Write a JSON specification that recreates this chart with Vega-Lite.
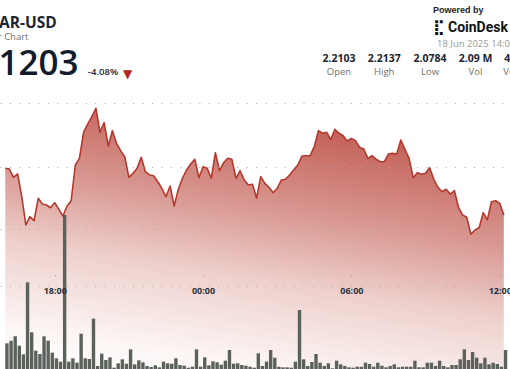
{
  "$schema": "https://vega.github.io/schema/vega-lite/v6.json",
  "width": 510,
  "height": 369,
  "padding": 0,
  "autosize": {"type": "none"},
  "background": "white",
  "view": {"stroke": null},
  "datasets": {
    "bars": [
      {"t": "2025-06-17T16:00:00Z", "p": 2.1480, "v": 41.1},
      {"t": "2025-06-17T16:10:00Z", "p": 2.1472, "v": 45.3},
      {"t": "2025-06-17T16:20:00Z", "p": 2.1380, "v": 52.3},
      {"t": "2025-06-17T16:30:00Z", "p": 2.1417, "v": 37.3},
      {"t": "2025-06-17T16:40:00Z", "p": 2.1164, "v": 23.5},
      {"t": "2025-06-17T16:50:00Z", "p": 2.0850, "v": 138.7},
      {"t": "2025-06-17T17:00:00Z", "p": 2.0942, "v": 58.7},
      {"t": "2025-06-17T17:10:00Z", "p": 2.0898, "v": 29.3},
      {"t": "2025-06-17T17:20:00Z", "p": 2.1147, "v": 24.0},
      {"t": "2025-06-17T17:30:00Z", "p": 2.1083, "v": 52.3},
      {"t": "2025-06-17T17:40:00Z", "p": 2.1072, "v": 45.3},
      {"t": "2025-06-17T17:50:00Z", "p": 2.1042, "v": 26.1},
      {"t": "2025-06-17T18:00:00Z", "p": 2.1098, "v": 17.1},
      {"t": "2025-06-17T18:10:00Z", "p": 2.1024, "v": 11.7},
      {"t": "2025-06-17T18:20:00Z", "p": 2.0950, "v": 246.4},
      {"t": "2025-06-17T18:30:00Z", "p": 2.1061, "v": 11.7},
      {"t": "2025-06-17T18:40:00Z", "p": 2.1120, "v": 17.1},
      {"t": "2025-06-17T18:50:00Z", "p": 2.1517, "v": 10.1},
      {"t": "2025-06-17T19:00:00Z", "p": 2.1591, "v": 56.5},
      {"t": "2025-06-17T19:10:00Z", "p": 2.1880, "v": 17.1},
      {"t": "2025-06-17T19:20:00Z", "p": 2.1972, "v": 16.0},
      {"t": "2025-06-17T19:30:00Z", "p": 2.2053, "v": 80.5},
      {"t": "2025-06-17T19:40:00Z", "p": 2.2147, "v": 4.8},
      {"t": "2025-06-17T19:50:00Z", "p": 2.1880, "v": 24.5},
      {"t": "2025-06-17T20:00:00Z", "p": 2.1987, "v": 14.4},
      {"t": "2025-06-17T20:10:00Z", "p": 2.1728, "v": 18.7},
      {"t": "2025-06-17T20:20:00Z", "p": 2.1898, "v": 2.1},
      {"t": "2025-06-17T20:30:00Z", "p": 2.1758, "v": 9.1},
      {"t": "2025-06-17T20:40:00Z", "p": 2.1676, "v": 15.5},
      {"t": "2025-06-17T20:50:00Z", "p": 2.1609, "v": 8.5},
      {"t": "2025-06-17T21:00:00Z", "p": 2.1380, "v": 31.5},
      {"t": "2025-06-17T21:10:00Z", "p": 2.1424, "v": 7.5},
      {"t": "2025-06-17T21:20:00Z", "p": 2.1480, "v": 13.9},
      {"t": "2025-06-17T21:30:00Z", "p": 2.1602, "v": 10.7},
      {"t": "2025-06-17T21:40:00Z", "p": 2.1442, "v": 4.8},
      {"t": "2025-06-17T21:50:00Z", "p": 2.1406, "v": 3.2},
      {"t": "2025-06-17T22:00:00Z", "p": 2.1398, "v": 5.9},
      {"t": "2025-06-17T22:10:00Z", "p": 2.1331, "v": 2.7},
      {"t": "2025-06-17T22:20:00Z", "p": 2.1258, "v": 11.7},
      {"t": "2025-06-17T22:30:00Z", "p": 2.1164, "v": 9.1},
      {"t": "2025-06-17T22:40:00Z", "p": 2.1283, "v": 8.5},
      {"t": "2025-06-17T22:50:00Z", "p": 2.1061, "v": 17.1},
      {"t": "2025-06-17T23:00:00Z", "p": 2.1247, "v": 6.4},
      {"t": "2025-06-17T23:10:00Z", "p": 2.1369, "v": 5.3},
      {"t": "2025-06-17T23:20:00Z", "p": 2.1461, "v": 2.1},
      {"t": "2025-06-17T23:30:00Z", "p": 2.1528, "v": 3.7},
      {"t": "2025-06-17T23:40:00Z", "p": 2.1580, "v": 31.5},
      {"t": "2025-06-17T23:50:00Z", "p": 2.1376, "v": 3.7},
      {"t": "2025-06-18T00:00:00Z", "p": 2.1498, "v": 18.7},
      {"t": "2025-06-18T00:10:00Z", "p": 2.1480, "v": 5.9},
      {"t": "2025-06-18T00:20:00Z", "p": 2.1369, "v": 12.3},
      {"t": "2025-06-18T00:30:00Z", "p": 2.1653, "v": 10.7},
      {"t": "2025-06-18T00:40:00Z", "p": 2.1453, "v": 6.9},
      {"t": "2025-06-18T00:50:00Z", "p": 2.1542, "v": 13.3},
      {"t": "2025-06-18T01:00:00Z", "p": 2.1591, "v": 30.4},
      {"t": "2025-06-18T01:10:00Z", "p": 2.1580, "v": 8.5},
      {"t": "2025-06-18T01:20:00Z", "p": 2.1369, "v": 9.1},
      {"t": "2025-06-18T01:30:00Z", "p": 2.1453, "v": 6.4},
      {"t": "2025-06-18T01:40:00Z", "p": 2.1350, "v": 5.3},
      {"t": "2025-06-18T01:50:00Z", "p": 2.1294, "v": 3.7},
      {"t": "2025-06-18T02:00:00Z", "p": 2.1302, "v": 2.1},
      {"t": "2025-06-18T02:10:00Z", "p": 2.1150, "v": 25.1},
      {"t": "2025-06-18T02:20:00Z", "p": 2.1387, "v": 4.8},
      {"t": "2025-06-18T02:30:00Z", "p": 2.1313, "v": 11.7},
      {"t": "2025-06-18T02:40:00Z", "p": 2.1269, "v": 30.4},
      {"t": "2025-06-18T02:50:00Z", "p": 2.1209, "v": 18.1},
      {"t": "2025-06-18T03:00:00Z", "p": 2.1258, "v": 3.7},
      {"t": "2025-06-18T03:10:00Z", "p": 2.1350, "v": 2.7},
      {"t": "2025-06-18T03:20:00Z", "p": 2.1358, "v": 2.7},
      {"t": "2025-06-18T03:30:00Z", "p": 2.1406, "v": 2.1},
      {"t": "2025-06-18T03:40:00Z", "p": 2.1461, "v": 11.7},
      {"t": "2025-06-18T03:50:00Z", "p": 2.1517, "v": 94.4},
      {"t": "2025-06-18T04:00:00Z", "p": 2.1617, "v": 15.5},
      {"t": "2025-06-18T04:10:00Z", "p": 2.1620, "v": 4.8},
      {"t": "2025-06-18T04:20:00Z", "p": 2.1620, "v": 11.2},
      {"t": "2025-06-18T04:30:00Z", "p": 2.1720, "v": 24.0},
      {"t": "2025-06-18T04:40:00Z", "p": 2.1898, "v": 10.1},
      {"t": "2025-06-18T04:50:00Z", "p": 2.1869, "v": 4.8},
      {"t": "2025-06-18T05:00:00Z", "p": 2.1880, "v": 9.1},
      {"t": "2025-06-18T05:10:00Z", "p": 2.1802, "v": 1.1},
      {"t": "2025-06-18T05:20:00Z", "p": 2.1913, "v": 13.3},
      {"t": "2025-06-18T05:30:00Z", "p": 2.1869, "v": 7.5},
      {"t": "2025-06-18T05:40:00Z", "p": 2.1842, "v": 4.8},
      {"t": "2025-06-18T05:50:00Z", "p": 2.1783, "v": 2.7},
      {"t": "2025-06-18T06:00:00Z", "p": 2.1813, "v": 2.1},
      {"t": "2025-06-18T06:10:00Z", "p": 2.1787, "v": 3.7},
      {"t": "2025-06-18T06:20:00Z", "p": 2.1713, "v": 3.7},
      {"t": "2025-06-18T06:30:00Z", "p": 2.1694, "v": 10.1},
      {"t": "2025-06-18T06:40:00Z", "p": 2.1591, "v": 8.0},
      {"t": "2025-06-18T06:50:00Z", "p": 2.1620, "v": 3.7},
      {"t": "2025-06-18T07:00:00Z", "p": 2.1580, "v": 10.1},
      {"t": "2025-06-18T07:10:00Z", "p": 2.1553, "v": 5.3},
      {"t": "2025-06-18T07:20:00Z", "p": 2.1553, "v": 2.7},
      {"t": "2025-06-18T07:30:00Z", "p": 2.1639, "v": 4.8},
      {"t": "2025-06-18T07:40:00Z", "p": 2.1647, "v": 7.5},
      {"t": "2025-06-18T07:50:00Z", "p": 2.1639, "v": 2.7},
      {"t": "2025-06-18T08:00:00Z", "p": 2.1794, "v": 3.7},
      {"t": "2025-06-18T08:10:00Z", "p": 2.1691, "v": 3.7},
      {"t": "2025-06-18T08:20:00Z", "p": 2.1591, "v": 3.7},
      {"t": "2025-06-18T08:30:00Z", "p": 2.1376, "v": 13.3},
      {"t": "2025-06-18T08:40:00Z", "p": 2.1431, "v": 2.7},
      {"t": "2025-06-18T08:50:00Z", "p": 2.1413, "v": 2.7},
      {"t": "2025-06-18T09:00:00Z", "p": 2.1424, "v": 10.1},
      {"t": "2025-06-18T09:10:00Z", "p": 2.1487, "v": 10.1},
      {"t": "2025-06-18T09:20:00Z", "p": 2.1358, "v": 4.8},
      {"t": "2025-06-18T09:30:00Z", "p": 2.1269, "v": 13.3},
      {"t": "2025-06-18T09:40:00Z", "p": 2.1220, "v": 4.8},
      {"t": "2025-06-18T09:50:00Z", "p": 2.1247, "v": 2.7},
      {"t": "2025-06-18T10:00:00Z", "p": 2.1194, "v": 6.4},
      {"t": "2025-06-18T10:10:00Z", "p": 2.1231, "v": 6.4},
      {"t": "2025-06-18T10:20:00Z", "p": 2.1047, "v": 15.5},
      {"t": "2025-06-18T10:30:00Z", "p": 2.0961, "v": 31.5},
      {"t": "2025-06-18T10:40:00Z", "p": 2.0936, "v": 14.4},
      {"t": "2025-06-18T10:50:00Z", "p": 2.0747, "v": 27.2},
      {"t": "2025-06-18T11:00:00Z", "p": 2.0794, "v": 18.1},
      {"t": "2025-06-18T11:10:00Z", "p": 2.0820, "v": 9.1},
      {"t": "2025-06-18T11:20:00Z", "p": 2.0987, "v": 18.1},
      {"t": "2025-06-18T11:30:00Z", "p": 2.0906, "v": 7.5},
      {"t": "2025-06-18T11:40:00Z", "p": 2.1109, "v": 10.1},
      {"t": "2025-06-18T11:50:00Z", "p": 2.1120, "v": 8.0},
      {"t": "2025-06-18T12:00:00Z", "p": 2.1091, "v": 3.7},
      {"t": "2025-06-18T12:10:00Z", "p": 2.0961, "v": 30.4}
    ]
  },
  "resolve": {"scale": {"y": "independent"}},
  "layer": [
    {
      "data": {"name": "bars"},
      "mark": {
        "type": "area",
        "clip": true,
        "fill": {
          "gradient": "linear",
          "x1": 0.3, "y1": 0, "x2": 0, "y2": 1,
          "stops": [
            {"offset": 0, "color": "#c4645b"},
            {"offset": 0.3, "color": "#d99993"},
            {"offset": 0.55, "color": "#eed0cc"},
            {"offset": 0.85, "color": "#fcf6f5"},
            {"offset": 1, "color": "#ffffff"}
          ]
        }
      },
      "encoding": {
        "x": {
          "field": "t", "type": "temporal", "title": null,
          "scale": {
            "type": "utc",
            "domain": [
              {"year": 2025, "month": 6, "date": 17, "hours": 15, "minutes": 59, "seconds": 22, "utc": true},
              {"year": 2025, "month": 6, "date": 18, "hours": 12, "minutes": 12, "seconds": 50, "utc": true}
            ]
          },
          "axis": {
            "values": [
              {"year": 2025, "month": 6, "date": 17, "hours": 18, "utc": true},
              {"year": 2025, "month": 6, "date": 18, "hours": 0, "utc": true},
              {"year": 2025, "month": 6, "date": 18, "hours": 6, "utc": true},
              {"year": 2025, "month": 6, "date": 18, "hours": 12, "utc": true}
            ],
            "format": "%H:%M",
            "offset": -83,
            "zindex": 1,
            "grid": false,
            "domainColor": "#a8a8a8",
            "domainDash": [1, 8.47],
            "domainWidth": 1,
            "tickSize": -11.5,
            "tickColor": "#999999",
            "tickDash": [0, 10.5, 1.2, 100],
            "labelFont": "Open Sans",
            "labelFontWeight": "bold",
            "labelFontSize": 9,
            "labelColor": "#2a323c",
            "labelPadding": 12,
            "labelFlush": false
          }
        },
        "y": {
          "field": "p", "type": "quantitative", "title": null,
          "scale": {"domain": [1.925, 2.335], "zero": false, "nice": false},
          "axis": {
            "values": [2.08, 2.15, 2.22],
            "labels": false, "ticks": false, "domain": false,
            "grid": true, "gridColor": "#a8a8a8", "gridDash": [1, 8.47],
            "gridWidth": 1, "zindex": 1
          }
        },
        "y2": {"datum": 1.925}
      }
    },
    {
      "data": {"name": "bars"},
      "mark": {"type": "bar", "width": 3.4, "xOffset": 1.7, "color": "#5b625c", "clip": true},
      "encoding": {
        "x": {"field": "t", "type": "temporal"},
        "y": {
          "field": "v", "type": "quantitative", "title": null,
          "scale": {"domain": [0, 590.4], "nice": false},
          "axis": null
        }
      }
    },
    {
      "data": {"name": "bars"},
      "mark": {"type": "line", "color": "#b5382c", "strokeWidth": 1.6, "strokeJoin": "round", "clip": true},
      "encoding": {
        "x": {"field": "t", "type": "temporal"},
        "y": {
          "field": "p", "type": "quantitative", "title": null,
          "scale": {"domain": [1.925, 2.335], "zero": false, "nice": false},
          "axis": null
        }
      }
    },
    {"data": {"values": [{}]}, "mark": {"type": "text", "text": "AR-USD", "x": -1, "y": 28.3, "align": "left", "baseline": "alphabetic", "font": "Open Sans", "fontSize": 15.5, "fontWeight": "bold", "color": "#1b2430"}},
    {"data": {"values": [{}]}, "mark": {"type": "text", "text": "24 Hour Chart", "x": 28.5, "y": 40, "align": "right", "baseline": "alphabetic", "font": "Open Sans", "fontSize": 9.5, "color": "#6e6e6e"}},
    {"data": {"values": [{}]}, "mark": {"type": "text", "text": "2.1203", "x": 78.5, "y": 75, "align": "right", "baseline": "alphabetic", "font": "Open Sans", "fontSize": 35, "fontWeight": 600, "color": "#101c2c"}},
    {"data": {"values": [{}]}, "mark": {"type": "text", "text": "-4.08%", "x": 88, "y": 75, "align": "left", "baseline": "alphabetic", "font": "Open Sans", "fontSize": 9.5, "fontWeight": 600, "color": "#1b2430"}},
    {"data": {"values": [{}]}, "mark": {"type": "text", "text": "▼", "x": 127.5, "y": 77.5, "align": "center", "baseline": "alphabetic", "font": "DejaVu Sans", "fontSize": 12, "color": "#b3261e"}},
    {"data": {"values": [{}]}, "mark": {"type": "text", "text": "Powered by", "x": 433, "y": 13.3, "align": "left", "baseline": "alphabetic", "font": "Liberation Sans", "fontSize": 9, "fontWeight": "bold", "color": "#222222"}},
    {"data": {"values": [{}]}, "mark": {"type": "text", "text": "⣏", "x": 433, "y": 32, "align": "left", "baseline": "alphabetic", "font": "DejaVu Sans", "fontSize": 15, "fontWeight": "bold", "color": "#111111"}},
    {"data": {"values": [{}]}, "mark": {"type": "text", "text": "CoinDesk", "x": 448, "y": 32.3, "align": "left", "baseline": "alphabetic", "font": "Roboto", "fontSize": 14, "fontWeight": "bold", "color": "#111111"}},
    {"data": {"values": [{}]}, "mark": {"type": "text", "text": "18 Jun 2025 14:00", "x": 437, "y": 47.3, "align": "left", "baseline": "alphabetic", "font": "Open Sans", "fontSize": 9.5, "color": "#9a9a9a"}},
    {"data": {"values": [{}]}, "mark": {"type": "text", "text": "2.2103", "x": 339, "y": 62, "align": "center", "baseline": "alphabetic", "font": "Open Sans", "fontSize": 10.5, "fontWeight": "bold", "color": "#1c2530"}},
    {"data": {"values": [{}]}, "mark": {"type": "text", "text": "2.2137", "x": 384.2, "y": 62, "align": "center", "baseline": "alphabetic", "font": "Open Sans", "fontSize": 10.5, "fontWeight": "bold", "color": "#1c2530"}},
    {"data": {"values": [{}]}, "mark": {"type": "text", "text": "2.0784", "x": 430, "y": 62, "align": "center", "baseline": "alphabetic", "font": "Open Sans", "fontSize": 10.5, "fontWeight": "bold", "color": "#1c2530"}},
    {"data": {"values": [{}]}, "mark": {"type": "text", "text": "2.09 M", "x": 475.5, "y": 62, "align": "center", "baseline": "alphabetic", "font": "Open Sans", "fontSize": 10.5, "fontWeight": "bold", "color": "#1c2530"}},
    {"data": {"values": [{}]}, "mark": {"type": "text", "text": "4.49 M", "x": 521, "y": 62, "align": "center", "baseline": "alphabetic", "font": "Open Sans", "fontSize": 10.5, "fontWeight": "bold", "color": "#1c2530"}},
    {"data": {"values": [{}]}, "mark": {"type": "text", "text": "Open", "x": 339, "y": 75, "align": "center", "baseline": "alphabetic", "font": "Open Sans", "fontSize": 9.5, "color": "#707070"}},
    {"data": {"values": [{}]}, "mark": {"type": "text", "text": "High", "x": 384.2, "y": 75, "align": "center", "baseline": "alphabetic", "font": "Open Sans", "fontSize": 9.5, "color": "#707070"}},
    {"data": {"values": [{}]}, "mark": {"type": "text", "text": "Low", "x": 430, "y": 75, "align": "center", "baseline": "alphabetic", "font": "Open Sans", "fontSize": 9.5, "color": "#707070"}},
    {"data": {"values": [{}]}, "mark": {"type": "text", "text": "Vol", "x": 475.5, "y": 75, "align": "center", "baseline": "alphabetic", "font": "Open Sans", "fontSize": 9.5, "color": "#707070"}},
    {"data": {"values": [{}]}, "mark": {"type": "text", "text": "Vol USD", "x": 521, "y": 75, "align": "center", "baseline": "alphabetic", "font": "Open Sans", "fontSize": 9.5, "color": "#707070"}}
  ]
}
